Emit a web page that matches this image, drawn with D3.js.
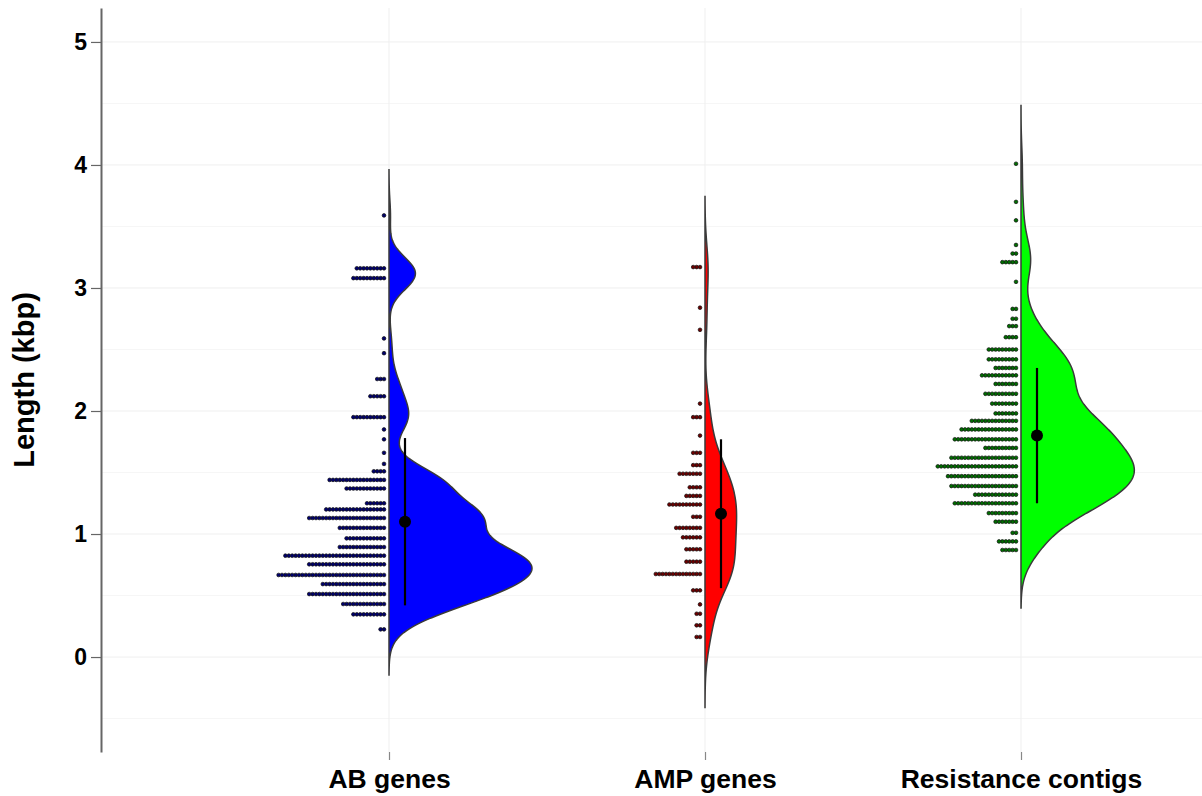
<!DOCTYPE html>
<html>
<head>
<meta charset="utf-8">
<script src="https://cdn.jsdelivr.net/npm/d3@7"></script>
<style>
  body { margin: 0; background: #fff; }
  svg { display: block; }
  text { font-family: "Liberation Sans", Arial, sans-serif; font-weight: bold; fill: #000; }
</style>
</head>
<body>
<div id="chart"></div>
<script>
const categories = ['AB genes', 'AMP genes', 'Resistance contigs'];
const violinFills = ['#0000ff', '#ff0000', '#00ff00'];
const dotFills = ['#00006e', '#6e0000', '#006e00'];

// dot rows: length (kbp) of each row and the number of dots stacked in it
const abLengths = [3.59, 3.16, 3.08, 2.59, 2.47, 2.26, 2.12, 1.95, 1.85, 1.77, 1.66, 1.57, 1.51, 1.44, 1.37,
  1.25, 1.20, 1.13, 1.05, 0.965, 0.894, 0.824, 0.754, 0.667, 0.593, 0.512, 0.431, 0.347, 0.225];
const abCounts = [1, 9, 10, 1, 1, 3, 5, 10, 1, 1, 1, 1, 4, 17, 12,
  6, 18, 23, 14, 12, 14, 30, 23, 32, 19, 23, 13, 10, 2];

const ampLengths = [3.17, 2.84, 2.66, 2.06, 1.95, 1.80, 1.66, 1.56, 1.49, 1.38, 1.31, 1.24, 1.14, 1.05,
  0.973, 0.876, 0.775, 0.675, 0.542, 0.428, 0.352, 0.258, 0.163];
const ampCounts = [3, 1, 1, 1, 3, 1, 3, 3, 7, 4, 5, 10, 3, 8,
  6, 5, 5, 14, 3, 1, 2, 2, 2];

const contigLengths = [4.01, 3.70, 3.55, 3.35, 3.28, 3.21, 3.05, 2.83, 2.75, 2.69, 2.60, 2.50, 2.42, 2.35,
  2.29, 2.22, 2.14, 2.06, 1.98, 1.92, 1.85, 1.77, 1.70, 1.62, 1.55, 1.47, 1.39, 1.32, 1.25, 1.17,
  1.10, 1.01, 0.94, 0.87];
const contigCounts = [1, 1, 1, 1, 2, 5, 1, 2, 2, 3, 4, 9, 9, 7,
  11, 7, 10, 8, 7, 14, 17, 19, 10, 20, 24, 21, 20, 13, 19, 9,
  7, 2, 6, 5];

// mean +/- sd drawn next to each violin
const means = [1.10, 1.165, 1.80];
const sds = [0.68, 0.605, 0.55];

const yTicks = [0, 1, 2, 3, 4, 5];
const gridValues = [-0.5, 0, 0.5, 1, 1.5, 2, 2.5, 3, 3.5, 4, 4.5, 5];

const groups = [
  {lengths: abLengths, counts: abCounts},
  {lengths: ampLengths, counts: ampCounts},
  {lengths: contigLengths, counts: contigCounts}
];

const width = 1202;
const height = 796;
const axisX = 101;
const dotStep = 3.4;
const dotGap = 5;
const maxHalfWidth = 143;

const svg = d3.select('#chart')
  .append('svg')
  .attr('width', width)
  .attr('height', height);

const y = d3.scaleLinear()
  .domain([-0.772, 5.276])
  .range([752, 8]);

const x = d3.scalePoint()
  .domain(categories)
  .range([389, 1021]);

// light grid
svg.append('g').selectAll('line').data(gridValues).enter()
  .append('line')
  .attr('x1', axisX).attr('x2', width)
  .attr('y1', d => y(d)).attr('y2', d => y(d))
  .attr('stroke', d => Number.isInteger(d) ? '#efefef' : '#f6f6f6')
  .attr('stroke-width', 1);

svg.append('g').selectAll('line').data(categories).enter()
  .append('line')
  .attr('x1', d => x(d)).attr('x2', d => x(d))
  .attr('y1', y.range()[1]).attr('y2', y.range()[0])
  .attr('stroke', '#efefef')
  .attr('stroke-width', 1);

// kernel density, R's bw.nrd0, evaluated 3 bandwidths past the data like ggplot
function nrd0(sample) {
  const s = d3.deviation(sample);
  const iqr = d3.quantile(sample, 0.75) - d3.quantile(sample, 0.25);
  return 0.9 * Math.min(s, iqr / 1.34) * Math.pow(sample.length, -0.2);
}

function countDensity(sample) {
  const bw = nrd0(sample);
  const lo = d3.min(sample) - 3 * bw;
  const hi = d3.max(sample) + 3 * bw;
  const k = 1 / Math.sqrt(2 * Math.PI);
  return d3.range(512).map(i => {
    const t = lo + (hi - lo) * i / 511;
    const dens = d3.sum(sample, v => k * Math.exp(-0.5 * ((t - v) / bw) ** 2)) / bw;
    return [t, dens];
  });
}

const densities = groups.map(g => {
  const sample = [];
  g.lengths.forEach((v, i) => { for (let j = 0; j < g.counts[i]; j++) sample.push(v); });
  sample.sort(d3.ascending);
  return countDensity(sample);
});

const w = d3.scaleLinear()
  .domain([0, d3.max(densities, d => d3.max(d, p => p[1]))])
  .range([0, maxHalfWidth]);

densities.forEach((dens, gi) => {
  const cx = x(categories[gi]);
  const area = d3.area()
    .y(d => y(d[0]))
    .x0(cx)
    .x1(d => cx + w(d[1]));
  svg.append('path')
    .datum(dens)
    .attr('d', area)
    .attr('fill', violinFills[gi])
    .attr('stroke', '#3a3a3a')
    .attr('stroke-width', 1.5);
});

// stacked dots, growing away from the violin
groups.forEach((g, gi) => {
  const cx = x(categories[gi]);
  const dots = [];
  g.lengths.forEach((v, i) => {
    for (let j = 0; j < g.counts[i]; j++) dots.push({v: v, j: j});
  });
  svg.append('g').selectAll('circle').data(dots).enter()
    .append('circle')
    .attr('cx', d => cx - dotGap - d.j * dotStep)
    .attr('cy', d => y(d.v))
    .attr('r', 1.85)
    .attr('fill', dotFills[gi])
    .attr('stroke', '#111')
    .attr('stroke-width', 0.7);
});

// mean and sd
categories.forEach((c, gi) => {
  const mx = x(c) + 16;
  svg.append('line')
    .attr('x1', mx).attr('x2', mx)
    .attr('y1', y(means[gi] + sds[gi]))
    .attr('y2', y(means[gi] - sds[gi]))
    .attr('stroke', '#000')
    .attr('stroke-width', 2.2);
  svg.append('circle')
    .attr('cx', mx)
    .attr('cy', y(means[gi]))
    .attr('r', 6)
    .attr('fill', '#000');
});

// y axis
const yAxis = d3.axisLeft(y).tickValues(yTicks).tickSizeInner(10).tickSizeOuter(0)
  .tickPadding(4).tickFormat(d3.format('d'));
const gy = svg.append('g')
  .attr('transform', 'translate(' + axisX + ',0)')
  .call(yAxis);
gy.select('.domain').attr('stroke', '#666').attr('stroke-width', 2);
gy.selectAll('.tick line').attr('stroke', '#666').attr('stroke-width', 1.2);
gy.selectAll('.tick text')
  .attr('font-size', 23)
  .attr('font-family', '"Liberation Sans", Arial, sans-serif')
  .attr('font-weight', 'bold')
  .attr('fill', '#000');

// x axis without its line
const xAxis = d3.axisBottom(x).tickSizeInner(8).tickSizeOuter(0).tickPadding(9);
const gx = svg.append('g')
  .attr('transform', 'translate(0,752)')
  .call(xAxis);
gx.select('.domain').remove();
gx.selectAll('.tick line').attr('stroke', '#888').attr('stroke-width', 1.2);
gx.selectAll('.tick text')
  .attr('font-size', 26.5)
  .attr('font-family', '"Liberation Sans", Arial, sans-serif')
  .attr('font-weight', 'bold')
  .attr('fill', '#000');

svg.append('text')
  .attr('transform', 'translate(34,380) rotate(-90)')
  .attr('text-anchor', 'middle')
  .attr('font-size', 29)
  .text('Length (kbp)');
</script>
</body>
</html>
